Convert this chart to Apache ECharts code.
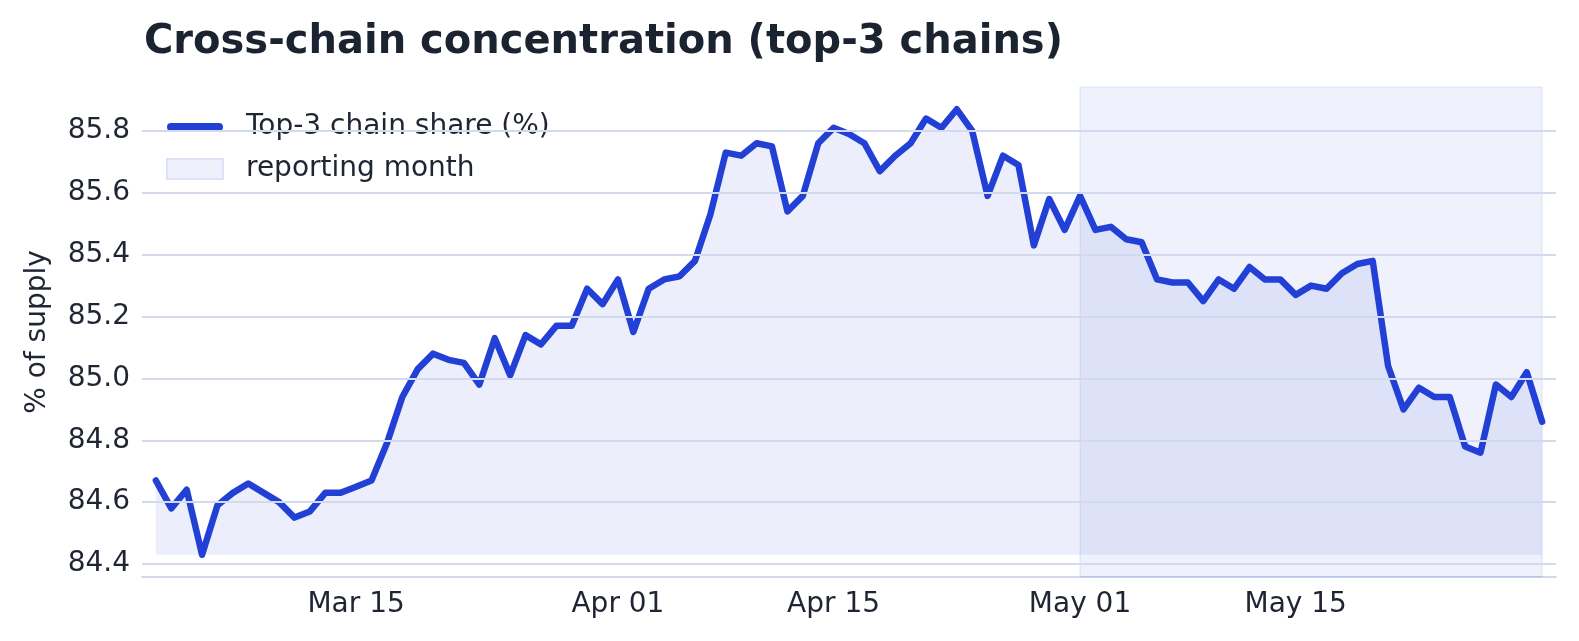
<!DOCTYPE html>
<html>
<head>
<meta charset="utf-8">
<title>Cross-chain concentration</title>
<script src="https://cdn.jsdelivr.net/npm/echarts@6/dist/echarts.min.js"></script>
<style>
  html, body { margin: 0; padding: 0; background: #ffffff; }
  #chart { width: 1579px; height: 641px; }
</style>
</head>
<body>
<div id="chart"></div>
<script>
// daily series, Mar 02 .. May 31
var startDay = "2025-03-02";
var shareValues = [
  84.67, 84.58, 84.64, 84.43, 84.59, 84.63, 84.66, 84.63, 84.60, 84.55,
  84.57, 84.63, 84.63, 84.65, 84.67, 84.79, 84.94, 85.03, 85.08, 85.06,
  85.05, 84.98, 85.13, 85.01, 85.14, 85.11, 85.17, 85.17, 85.29, 85.24,
  85.32, 85.15, 85.29, 85.32, 85.33, 85.38, 85.53, 85.73, 85.72, 85.76,
  85.75, 85.54, 85.59, 85.76, 85.81, 85.79, 85.76, 85.67, 85.72, 85.76,
  85.84, 85.81, 85.87, 85.80, 85.59, 85.72, 85.69, 85.43, 85.58, 85.48,
  85.59, 85.48, 85.49, 85.45, 85.44, 85.32, 85.31, 85.31, 85.25, 85.32,
  85.29, 85.36, 85.32, 85.32, 85.27, 85.30, 85.29, 85.34, 85.37, 85.38,
  85.04, 84.90, 84.97, 84.94, 84.94, 84.78, 84.76, 84.98, 84.94, 85.02,
  84.86
];
var xTickDays = ["2025-03-15", "2025-04-01", "2025-04-15", "2025-05-01", "2025-05-15"];
var yTickValues = [84.4, 84.6, 84.8, 85.0, 85.2, 85.4, 85.6, 85.8];
var reportingMonth = ["2025-05-01", "2025-05-31"];
var monthNames = ["Jan", "Feb", "Mar", "Apr", "May", "Jun", "Jul", "Aug", "Sep", "Oct", "Nov", "Dec"];

var DAY = 86400000;
function toTime(s) {
  var p = s.split("-");
  return Date.UTC(+p[0], +p[1] - 1, +p[2]);
}
var t0 = toTime(startDay);
// x is counted in days from the first point
function toDayNum(s) {
  return Math.round((toTime(s) - t0) / DAY);
}

var lineData = shareValues.map(function (v, i) {
  return [i, v];
});

var dataMin = Math.min.apply(null, shareValues);
var dataMax = Math.max.apply(null, shareValues);
var pad = (dataMax - dataMin) * 0.05;
var lastDay = shareValues.length - 1;
var xPad = lastDay * 0.01;

var textColor = "#1f2533";
var font = "DejaVu Sans";
var gridColor = "#d3d9ef";
var lineColor = "#2340d6";

var myChart = echarts.init(document.getElementById("chart"));
var option = {
  backgroundColor: "#ffffff",
  animation: false,
  title: {
    text: "Cross-chain concentration (top-3 chains)",
    left: 139,
    top: 18,
    textStyle: { fontFamily: font, fontSize: 40, fontWeight: "bold", color: "#1c2330" }
  },
  legend: {
    orient: "vertical",
    left: 161,
    top: 108,
    itemWidth: 56,
    itemHeight: 20,
    itemGap: 14,
    symbolKeepAspect: true,
    textStyle: { fontFamily: font, fontSize: 28, color: textColor, lineHeight: 28, padding: [0, 0, 0, 18] },
    data: [
      {
        name: "Top-3 chain share (%)",
        // rounded bar, like a thick line with round caps
        icon: "path://M4,0H52A4,4,0,0,1,52,8H4A4,4,0,0,1,4,0Z",
        itemStyle: { color: lineColor }
      },
      {
        name: "reporting month",
        icon: "rect",
        itemStyle: { color: "#eef1fc", borderColor: "#dde2f7", borderWidth: 2 }
      }
    ]
  },
  grid: { left: 142, right: 23, top: 87, bottom: 64 },
  xAxis: {
    type: "value",
    min: -xPad,
    max: lastDay + xPad,
    axisLine: { show: true, onZero: false, lineStyle: { color: gridColor, width: 2 } },
    axisTick: { show: false },
    splitLine: { show: false },
    axisLabel: {
      customValues: xTickDays.map(toDayNum),
      margin: 14,
      fontFamily: font,
      fontSize: 28,
      color: textColor,
      formatter: function (value) {
        var d = new Date(t0 + value * DAY);
        var day = d.getUTCDate();
        return monthNames[d.getUTCMonth()] + " " + (day < 10 ? "0" + day : day);
      }
    }
  },
  yAxis: {
    type: "value",
    min: dataMin - pad,
    max: dataMax + pad,
    name: "% of supply",
    nameLocation: "middle",
    nameGap: 90,
    nameTextStyle: { fontFamily: font, fontSize: 28, color: textColor },
    axisLine: { show: false },
    axisTick: { show: false },
    splitLine: { show: false },
    axisLabel: {
      customValues: yTickValues,
      margin: 12,
      fontFamily: font,
      fontSize: 28,
      color: textColor,
      formatter: function (value) {
        return value.toFixed(1);
      }
    }
  },
  series: [
    {
      // gridlines at the tick values
      name: "gridlines",
      type: "line",
      data: [],
      silent: true,
      z: 1,
      markLine: {
        silent: true,
        symbol: "none",
        label: { show: false },
        lineStyle: { color: gridColor, width: 2, type: "solid" },
        data: yTickValues.map(function (v) {
          return { yAxis: v };
        })
      }
    },
    {
      name: "reporting month",
      type: "line",
      data: [],
      silent: true,
      z: 2,
      itemStyle: { color: "#eef1fc" },
      markArea: {
        silent: true,
        itemStyle: { color: "rgba(35,64,214,0.075)", borderColor: "rgba(35,64,214,0.06)", borderWidth: 2 },
        data: [[{ xAxis: toDayNum(reportingMonth[0]) }, { xAxis: toDayNum(reportingMonth[1]) }]]
      }
    },
    {
      name: "Top-3 chain share (%)",
      type: "line",
      data: lineData,
      z: 3,
      symbol: "none",
      showSymbol: false,
      color: lineColor,
      lineStyle: { color: lineColor, width: 6.5, cap: "round", join: "round" },
      areaStyle: { color: "rgba(35,64,214,0.12)", origin: dataMin }
    }
  ]
};
myChart.setOption(option);
</script>
</body>
</html>
